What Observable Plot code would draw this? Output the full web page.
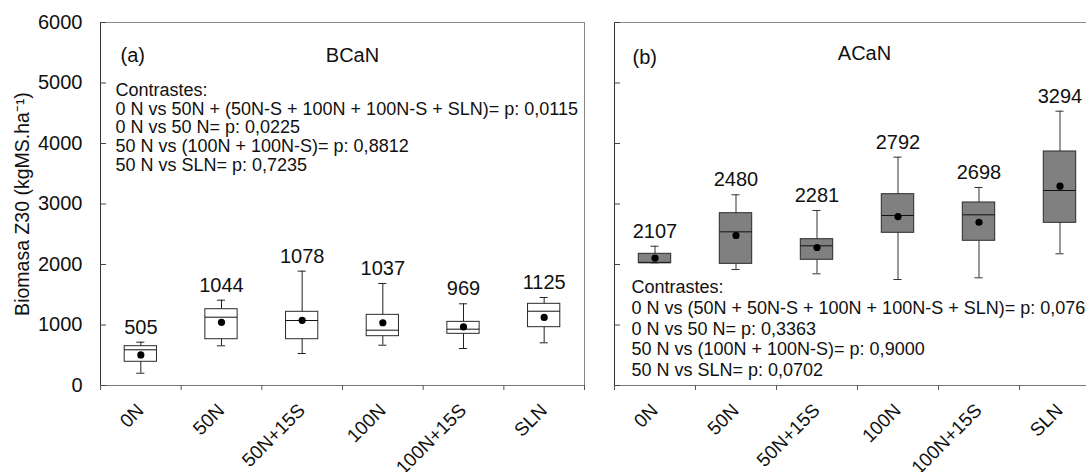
<!DOCTYPE html>
<html><head><meta charset="utf-8">
<script src="https://cdn.jsdelivr.net/npm/d3@7"></script>
<script src="https://cdn.jsdelivr.net/npm/@observablehq/plot@0.6"></script>
<style>
body{margin:0;background:#fff;}
#wrap{position:relative;width:1086px;height:472px;overflow:hidden;background:#fff;}
#pa,#pb{position:absolute;top:0;}
#pa{left:0;width:600px;}
#pb{left:600px;width:500px;}
#wrap svg{max-width:none !important;}
</style></head><body>
<div id="wrap"><div id="pa"></div><div id="pb"></div></div>
<script>
// ---- data ----
const cats = ["0N", "50N", "50N+15S", "100N", "100N+15S", "SLN"];
const yTicks = [0, 1000, 2000, 3000, 4000, 5000, 6000];
const yTitle = "Biomasa Z30 (kgMS.ha⁻¹)";

// Panel (a) BCaN
const meanA = [505, 1044, 1078, 1037, 969, 1125];
const loA   = [203, 656, 529, 666, 611, 706];
const q1A   = [392, 765, 765, 815, 854, 964];
const medA  = [590, 1129, 1074, 914, 931, 1228];
const q3A   = [650, 1261, 1218, 1168, 1052, 1350];
const hiA   = [716, 1410, 1890, 1686, 1350, 1455];
const contrastA = [
  "Contrastes:",
  "0 N vs 50N + (50N-S + 100N + 100N-S + SLN)= p: 0,0115",
  "0 N vs 50 N= p: 0,0225",
  "50 N vs (100N + 100N-S)= p: 0,8812",
  "50 N vs SLN= p: 0,7235"
];

// Panel (b) ACaN
const meanB = [2107, 2480, 2281, 2792, 2698, 3294];
const loB   = [2028, 1917, 1846, 1752, 1780, 2177];
const q1B   = [2028, 2011, 2078, 2524, 2392, 2689];
const medB  = [2028, 2540, 2309, 2810, 2821, 3223];
const q3B   = [2177, 2848, 2418, 3162, 3025, 3868];
const hiB   = [2302, 3152, 2893, 3774, 3273, 4534];
const contrastB = [
  "Contrastes:",
  "0 N vs (50N + 50N-S + 100N + 100N-S + SLN)= p: 0,0760",
  "0 N vs 50 N= p: 0,3363",
  "50 N vs (100N + 100N-S)= p: 0,9000",
  "50 N vs SLN= p: 0,0702"
];

const FONT = "'Liberation Sans', Arial, Helvetica, sans-serif";
const bounds = cats.map((d, i) => i - 0.5).concat([cats.length - 0.5]);

function rowsOf(mean, lo, q1, med, q3, hi) {
  return cats.map((c, i) => ({i, cat: c, mean: mean[i], lo: lo[i], q1: q1[i], med: med[i], q3: q3[i], hi: hi[i], label: String(mean[i])}));
}

function panel(o) {
  const rows = o.rows;
  const marks = [
    Plot.frame({stroke: "#8a8a8a"}),
    Plot.ruleX(rows, {x: "i", y1: "lo", y2: "hi", stroke: o.lineColor}),
    Plot.ruleY(rows, {y: "hi", x1: d => d.i - 0.05, x2: d => d.i + 0.05, stroke: o.lineColor}),
    Plot.ruleY(rows, {y: "lo", x1: d => d.i - 0.05, x2: d => d.i + 0.05, stroke: o.lineColor}),
    Plot.rect(rows, {x1: d => d.i - 0.2, x2: d => d.i + 0.2, y1: "q1", y2: "q3", fill: o.boxFill, stroke: "#2a2a2a"}),
    Plot.ruleY(rows, {y: "med", x1: d => d.i - 0.2, x2: d => d.i + 0.2, stroke: "#111"}),
    Plot.dot(rows, {x: "i", y: "mean", r: 3.6, fill: "#000", stroke: null}),
    Plot.text(rows, {x: "i", y: "hi", text: "label", dy: -15, fontSize: 20, fill: "#111"}),
    Plot.ruleX([-0.5], {stroke: "#333"}),
    Plot.ruleY([0], {stroke: "#777"}),
    Plot.axisY({ticks: yTicks, tickSize: -6, tickPadding: 24, stroke: "#444",
      tickFormat: o.showY ? (d => String(d)) : (() => ""), fontSize: 20, label: null, fill: "#111"}),
    Plot.axisX({ticks: bounds, tickSize: 5, tickFormat: () => "", label: null, stroke: "#555"}),
    Plot.text(cats, {x: (d, i) => i, text: d => d, frameAnchor: "bottom", rotate: -45, textAnchor: "end",
      lineAnchor: "bottom", dx: 4, dy: 26, fontSize: 19, fill: "#111"}),
    Plot.text([o.tag], {text: d => d, frameAnchor: "top-left", textAnchor: "start", dx: o.tagDx, dy: o.tagDy, fontSize: 20, fill: "#111"}),
    Plot.text([o.title], {text: d => d, frameAnchor: "top", textAnchor: "middle", dx: o.titleDx, dy: o.titleDy, fontSize: 20, fill: "#111"}),
    Plot.text([o.contrast.join("\n")], {text: d => d, frameAnchor: "top-left", textAnchor: "start", lineAnchor: "top",
      lineHeight: o.cLine, dx: o.cDx, dy: o.cDy, fontSize: 18, fill: "#111"})
  ];
  if (o.showY) {
    marks.push(Plot.text([yTitle], {text: d => d, frameAnchor: "left", textAnchor: "middle", rotate: -90, dx: -78, fontSize: 19.5, fill: "#111"}));
  }
  return Plot.plot({
    width: o.width,
    height: 472,
    marginLeft: o.marginLeft,
    marginRight: o.marginRight,
    marginTop: 22,
    marginBottom: 87,
    x: {domain: [-0.5, cats.length - 0.5], label: null},
    y: {domain: [0, 6000], label: null},
    style: {fontFamily: FONT, fontSize: "16px", background: "transparent", overflow: "visible", color: "#111"},
    marks
  });
}

document.getElementById("pa").append(panel({
  rows: rowsOf(meanA, loA, q1A, medA, q3A, hiA),
  width: 600, marginLeft: 100, marginRight: 16,
  boxFill: "#ffffff", lineColor: "#222",
  tag: "(a)", tagDx: 20, tagDy: 25,
  title: "BCaN", titleDx: 10, titleDy: 25,
  contrast: contrastA, cDx: 15, cDy: 60, cLine: 1.04,
  showY: true
}));

document.getElementById("pb").append(panel({
  rows: rowsOf(meanB, loB, q1B, medB, q3B, hiB),
  width: 500, marginLeft: 14, marginRight: 0,
  boxFill: "#808080", lineColor: "#333",
  tag: "(b)", tagDx: 18, tagDy: 27,
  title: "ACaN", titleDx: 7, titleDy: 23,
  contrast: contrastB, cDx: 17, cDy: 256, cLine: 1.15,
  showY: false
}));
</script>
</body></html>
